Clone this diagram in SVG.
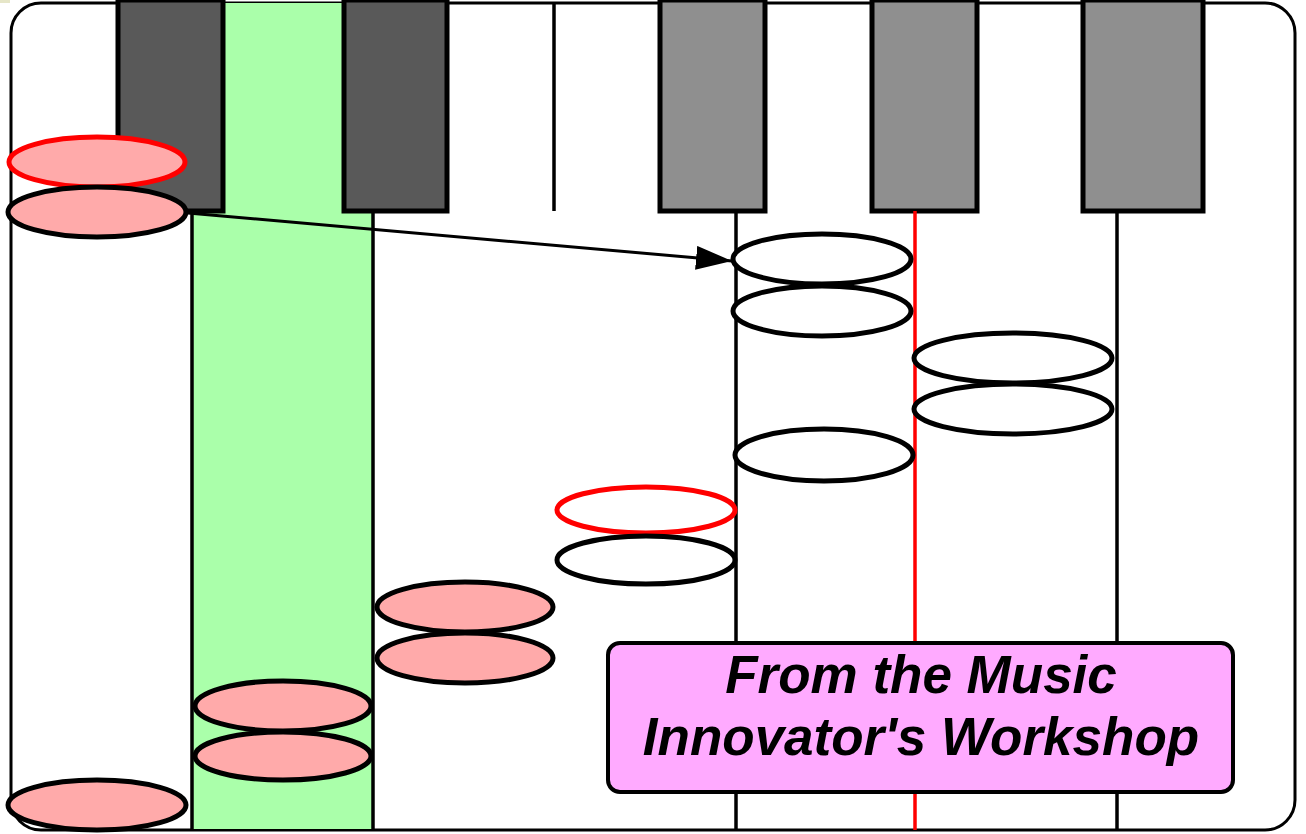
<svg xmlns="http://www.w3.org/2000/svg" width="1306" height="834" viewBox="0 0 1306 834">
<style>
.dk{fill:#595959;stroke:#000;stroke-width:5}
.gk{fill:#8f8f8f;stroke:#000;stroke-width:5}
.ln{stroke:#000;stroke-width:3.5;fill:none}
.pk{fill:#ffaaaa;stroke:#000;stroke-width:5}
.pr{fill:#ffaaaa;stroke:#ff0000;stroke-width:5}
.wh{fill:#fff;stroke:#000;stroke-width:5}
.wr{fill:#fff;stroke:#ff0000;stroke-width:5}
.lbl{font-family:"Liberation Sans",Arial,sans-serif;font-weight:bold;font-style:italic;font-size:53px;fill:#000;text-anchor:middle}
</style>
<defs>
<marker id="ah" markerWidth="36" markerHeight="24" refX="36" refY="12" orient="auto" markerUnits="userSpaceOnUse" viewBox="0 0 36 24">
<path d="M0,0 L36,12 L0,24 z" fill="#000"/>
</marker>
</defs>
<rect x="0" y="0" width="10" height="3" fill="#e6e6c8"/>
<g id="frame">
<rect x="11" y="3" width="1284" height="827" rx="30" ry="30" fill="#fff" stroke="#000" stroke-width="3"/>
</g>
<g id="green-column">
<rect x="192" y="3" width="181" height="826" fill="#aaffaa"/>
</g>
<g id="keys">
<rect id="key1" class="dk" x="118" y="0" width="105" height="211"/>
<rect id="key2" class="dk" x="344" y="0" width="103" height="211"/>
<rect id="key3" class="gk" x="660" y="0" width="105" height="211"/>
<rect id="key4" class="gk" x="872" y="0" width="105" height="211"/>
<rect id="key5" class="gk" x="1083" y="0" width="120" height="211"/>
</g>
<g id="lines">
<line class="ln" x1="554" y1="3" x2="554" y2="211"/>
<line class="ln" x1="192" y1="211" x2="192" y2="830"/>
<line class="ln" x1="373" y1="211" x2="373" y2="830"/>
<line class="ln" x1="736" y1="211" x2="736" y2="830"/>
<line x1="915" y1="211" x2="915" y2="830" stroke="#ff0000" stroke-width="3.5"/>
<line class="ln" x1="1117" y1="211" x2="1117" y2="830"/>
</g>
<g id="notes">
<ellipse id="n1" class="pr" cx="97" cy="162" rx="88" ry="25"/>
<ellipse id="n2" class="pk" cx="97" cy="212" rx="89" ry="25"/>
<ellipse id="n3" class="pk" cx="97" cy="805" rx="89" ry="25"/>
<ellipse id="n4" class="pk" cx="283" cy="706" rx="88" ry="25"/>
<ellipse id="n5" class="pk" cx="283" cy="756" rx="88" ry="24"/>
<ellipse id="n6" class="pk" cx="465" cy="607" rx="88" ry="25"/>
<ellipse id="n7" class="pk" cx="465" cy="658" rx="88" ry="25"/>
<ellipse id="n8" class="wr" cx="646" cy="510" rx="89" ry="23"/>
<ellipse id="n9" class="wh" cx="646" cy="560" rx="89" ry="24"/>
<ellipse id="n10" class="wh" cx="822" cy="259" rx="89" ry="25"/>
<ellipse id="n11" class="wh" cx="822" cy="311" rx="89" ry="25"/>
<ellipse id="n12" class="wh" cx="824" cy="455" rx="89" ry="26"/>
<ellipse id="n13" class="wh" cx="1013" cy="358" rx="99" ry="25"/>
<ellipse id="n14" class="wh" cx="1013" cy="409" rx="99" ry="25"/>
</g>
<g id="connectors">
<line x1="188" y1="213" x2="732" y2="261" stroke="#000" stroke-width="3" marker-end="url(#ah)"/>
</g>
<g id="label">
<rect x="608" y="643" width="625" height="149" rx="12" ry="12" fill="#ffaaff" stroke="#000" stroke-width="4"/>
<text class="lbl" x="921" y="693">From the Music</text>
<text class="lbl" x="921" y="755">Innovator's Workshop</text>
</g>
</svg>
